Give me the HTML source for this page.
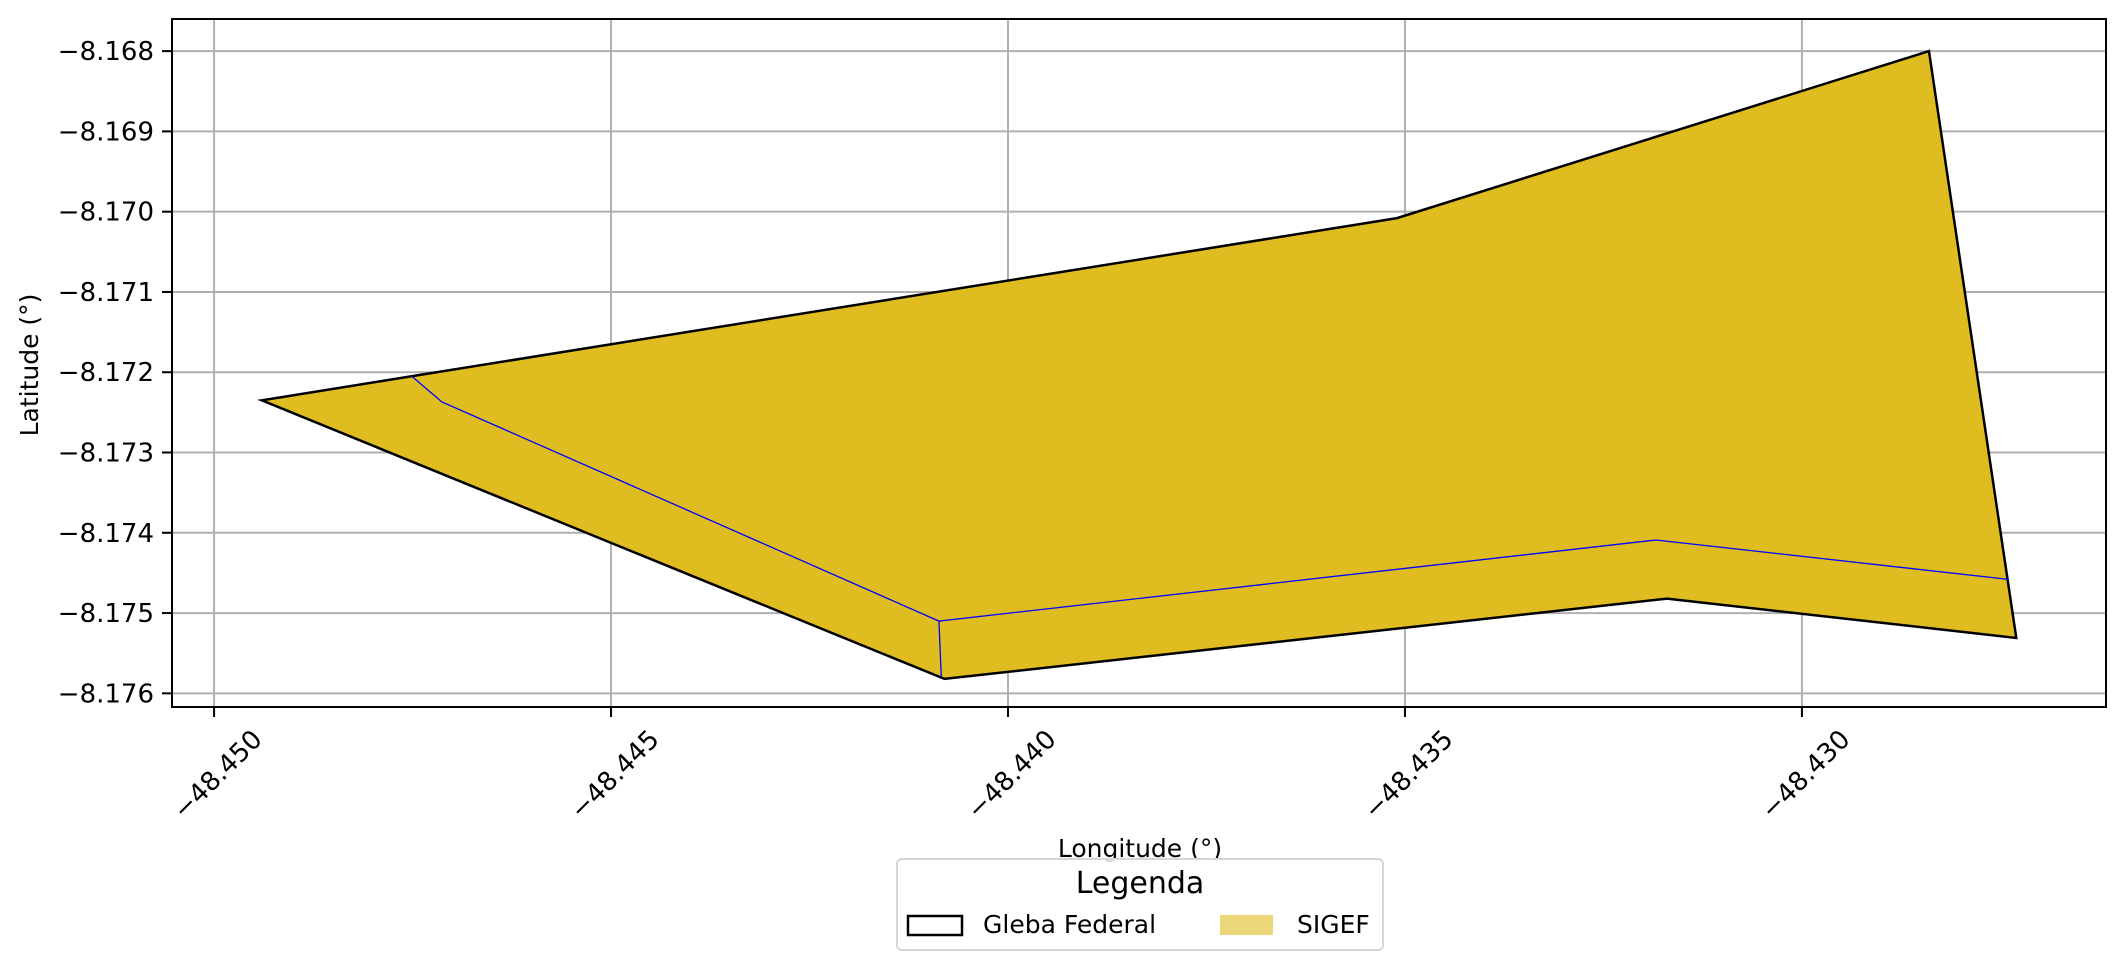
<!DOCTYPE html>
<html><head><meta charset="utf-8"><style>
html,body{margin:0;padding:0;background:#fff}
svg{display:block;font-family:"DejaVu Sans","Liberation Sans",sans-serif}
</style></head><body>
<svg id="chart" width="2126" height="970" viewBox="0 0 2126 970">
<g id="grid"></g>
<g id="polys"></g>
<rect x="172" y="19" width="1934" height="688" fill="none" stroke="#000" stroke-width="2"/>
<g id="ticks"></g>
<text x="1140" y="857" font-size="25" text-anchor="middle">Longitude (°)</text>
<text transform="translate(38,365) rotate(-90)" font-size="25" text-anchor="middle">Latitude (°)</text>
<g>
<rect x="897" y="859" width="486" height="91" rx="5" fill="#fff" fill-opacity="0.85" stroke="#d6d6d6" stroke-width="2"/>
<text x="1140" y="893" font-size="30" text-anchor="middle">Legenda</text>
<rect x="908" y="916" width="54" height="19" fill="#fff" stroke="#000" stroke-width="2.5"/>
<text x="983" y="933" font-size="25">Gleba Federal</text>
<rect x="1220" y="915" width="53" height="20" fill="#ebd678"/>
<text x="1297" y="933" font-size="25">SIGEF</text>
</g>
</svg>
<script>
const xTicks = [-48.450, -48.445, -48.440, -48.435, -48.430];
const xTickLabels = ["−48.450", "−48.445", "−48.440", "−48.435", "−48.430"];
const yTicks = [-8.168, -8.169, -8.170, -8.171, -8.172, -8.173, -8.174, -8.175, -8.176];
const yTickLabels = ["−8.168", "−8.169", "−8.170", "−8.171", "−8.172", "−8.173", "−8.174", "−8.175", "−8.176"];
const glebaLon = [-48.4494, -48.4351, -48.4284, -48.4273, -48.4317, -48.4408];
const glebaLat = [-8.17235, -8.17008, -8.16800, -8.17531, -8.17482, -8.17582];
const sigefLon = [-48.44751, -48.44713, -48.44087, -48.44084, -48.44087, -48.43184, -48.42740];
const sigefLat = [-8.17205, -8.17237, -8.17510, -8.17580, -8.17510, -8.17409, -8.17458];

const X0 = 172, X1 = 2106, Y0 = 19, Y1 = 707;
const xMin = -48.45053, xMax = -48.42617, yMin = -8.17617, yMax = -8.16760;
function sx(v){ return X0 + (v - xMin) / (xMax - xMin) * (X1 - X0); }
function sy(v){ return Y1 - (v - yMin) / (yMax - yMin) * (Y1 - Y0); }
const NS = "http://www.w3.org/2000/svg";
function mk(tag, attrs, parent){ const e = document.createElementNS(NS, tag); for (const k in attrs) e.setAttribute(k, attrs[k]); parent.appendChild(e); return e; }
const grid = document.getElementById('grid'), ticks = document.getElementById('ticks'), polys = document.getElementById('polys');

xTicks.forEach((v, i) => {
  const x = sx(v);
  const g = mk('line', {x1:x, x2:x, y1:Y0, y2:Y1, stroke:'#b0b0b0', 'stroke-width':2}, grid);
  
  
  const t = mk('line', {x1:x, x2:x, y1:Y1, y2:Y1+10, stroke:'#000', 'stroke-width':2}, ticks);
  
  
  const l = mk('text', {x:x+4, y:775, 'font-size':26, 'text-anchor':'middle', 'dominant-baseline':'central', transform:`rotate(-45 ${x+4} 775)`}, ticks);
  l.textContent = xTickLabels[i];
  
  
});
yTicks.forEach((v, i) => {
  const y = sy(v);
  const g = mk('line', {x1:X0, x2:X1, y1:y, y2:y, stroke:'#b0b0b0', 'stroke-width':2}, grid);
  
  
  const t = mk('line', {x1:X0-10, x2:X0, y1:y, y2:y, stroke:'#000', 'stroke-width':2}, ticks);
  
  
  const l = mk('text', {x:154, y:y+9, 'font-size':26, 'text-anchor':'end'}, ticks);
  l.textContent = yTickLabels[i];
  
  
});
const gp = glebaLon.map((v, i) => sx(v) + ',' + sy(glebaLat[i])).join(' ');
const gl = mk('polygon', {points:gp, fill:'#dfbd20', stroke:'#000', 'stroke-width':2.5, 'stroke-linejoin':'miter'}, polys);


const sp = sigefLon.map((v, i) => sx(v) + ',' + sy(sigefLat[i])).join(' ');
const sl = mk('polyline', {points:sp, fill:'none', stroke:'#0000ff', 'stroke-width':1.3}, polys);


</script>
</body></html>
